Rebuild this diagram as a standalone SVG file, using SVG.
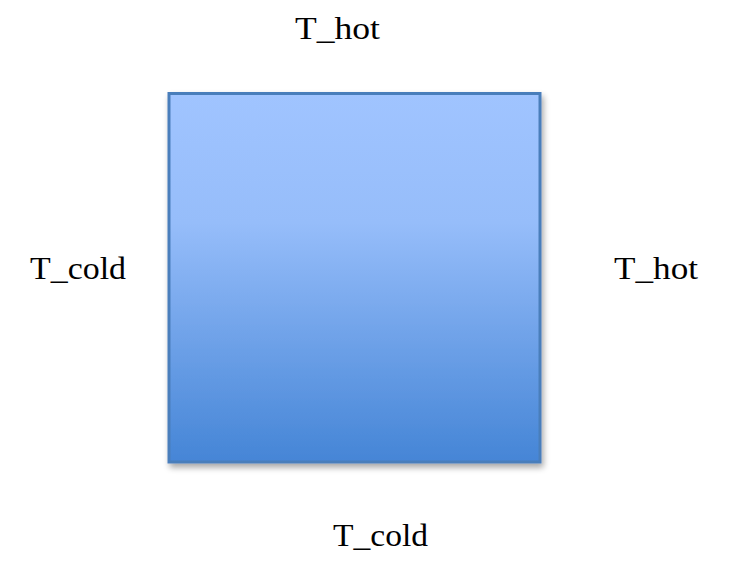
<svg xmlns="http://www.w3.org/2000/svg" width="730" height="570" viewBox="0 0 730 570">
<defs>
<linearGradient id="g" x1="0" y1="0" x2="0" y2="1">
<stop offset="0" stop-color="#a0c4ff"/>
<stop offset="0.35" stop-color="#96bdfa"/>
<stop offset="1" stop-color="#4585d6"/>
</linearGradient>
<filter id="sh" x="-10%" y="-10%" width="125%" height="125%">
<feGaussianBlur in="SourceAlpha" stdDeviation="3"/>
<feOffset dx="2" dy="4"/>
<feComponentTransfer><feFuncA type="linear" slope="0.35"/></feComponentTransfer>
<feMerge><feMergeNode/><feMergeNode in="SourceGraphic"/></feMerge>
</filter>
</defs>
<style>
text{font-family:"Liberation Serif","DejaVu Serif",serif;font-size:32px;fill:#000}
</style>
<rect width="730" height="570" fill="#fff"/>
<g id="square">
<rect x="169" y="93.5" width="371" height="368.5" fill="url(#g)" stroke="#4a7ebb" stroke-width="3" filter="url(#sh)"/>
</g>
<g id="labels">
<text x="295" y="39" textLength="85" lengthAdjust="spacingAndGlyphs">T_hot</text>
<text x="30" y="279" textLength="96" lengthAdjust="spacingAndGlyphs">T_cold</text>
<text x="614" y="279" textLength="84" lengthAdjust="spacingAndGlyphs">T_hot</text>
<text x="333" y="546" textLength="95" lengthAdjust="spacingAndGlyphs">T_cold</text>
</g>
</svg>
